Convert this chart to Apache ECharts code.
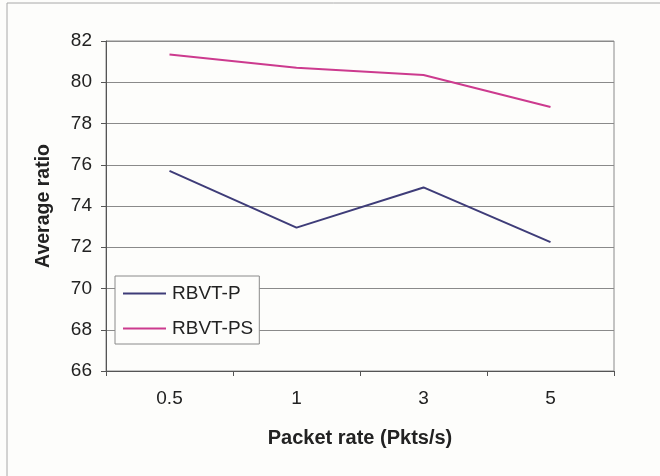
<!DOCTYPE html>
<html><head><meta charset="utf-8">
<script src="https://cdn.jsdelivr.net/npm/echarts@6/dist/echarts.min.js"></script>
<style>html,body{margin:0;padding:0;background:#fdfdfb;}#c{width:660px;height:476px;}</style>
</head><body><div id="c"></div>
<script>
const categories = ['0.5', '1', '3', '5'];
const rbvtP = [75.7, 72.95, 74.9, 72.25];
const rbvtPS = [81.35, 80.7, 80.35, 78.8];
const yTicks = [66, 68, 70, 72, 74, 76, 78, 80, 82];

const chart = echarts.init(document.getElementById('c'), null, {renderer: 'canvas'});
const font = 'Liberation Sans, Arial, sans-serif';
chart.setOption({
  backgroundColor: '#fdfdfb',
  animation: false,
  grid: {left: 106, top: 41, width: 508, height: 330, show: true, borderColor: '#8a8a8a', borderWidth: 1, backgroundColor: 'transparent'},
  legend: {
    left: 115, top: 276, orient: 'vertical', itemWidth: 43, itemHeight: 2, itemGap: 16,
    padding: [8, 6, 6, 8],
    borderColor: '#8a8a8a', borderWidth: 1, backgroundColor: '#fdfdfb', borderRadius: 0,
    textStyle: {fontFamily: font, fontSize: 19, color: '#222', padding: [0, 0, 0, 1]},
    icon: 'rect',
    data: ['RBVT-P', 'RBVT-PS']
  },
  xAxis: {
    type: 'category', data: categories, boundaryGap: true,
    name: 'Packet rate (Pkts/s)', nameLocation: 'middle', nameGap: 57,
    nameTextStyle: {fontFamily: font, fontSize: 20, fontWeight: 'bold', color: '#222'},
    axisLine: {lineStyle: {color: '#555', width: 1}},
    axisTick: {show: true, length: 5, lineStyle: {color: '#555'}},
    axisLabel: {fontFamily: font, fontSize: 19, color: '#222', margin: 18},
    splitLine: {show: false}
  },
  yAxis: {
    type: 'value', min: yTicks[0], max: yTicks[yTicks.length - 1], interval: 2,
    name: 'Average ratio', nameLocation: 'middle', nameGap: 52,
    nameTextStyle: {fontFamily: font, fontSize: 19.5, fontWeight: 'bold', color: '#222'},
    axisLine: {show: true, lineStyle: {color: '#555', width: 1}},
    axisTick: {show: true, length: 5, lineStyle: {color: '#555'}},
    axisLabel: {fontFamily: font, fontSize: 19, color: '#222', margin: 14},
    splitLine: {show: true, lineStyle: {color: '#8a8a8a', width: 1}}
  },
  series: [
    {name: 'RBVT-P', type: 'line', data: rbvtP, symbol: 'none', lineStyle: {color: '#3e3c78', width: 2}, itemStyle: {color: '#3e3c78'}},
    {name: 'RBVT-PS', type: 'line', data: rbvtPS, symbol: 'none', lineStyle: {color: '#cc3a8e', width: 2}, itemStyle: {color: '#cc3a8e'}}
  ],
  graphic: [
    {type: 'line', shape: {x1: 7, y1: 3, x2: 7, y2: 476}, style: {stroke: '#a8a8a8', lineWidth: 1}},
    {type: 'line', shape: {x1: 7, y1: 3, x2: 660, y2: 3}, style: {stroke: '#a8a8a8', lineWidth: 1}}
  ]
});
</script></body></html>
